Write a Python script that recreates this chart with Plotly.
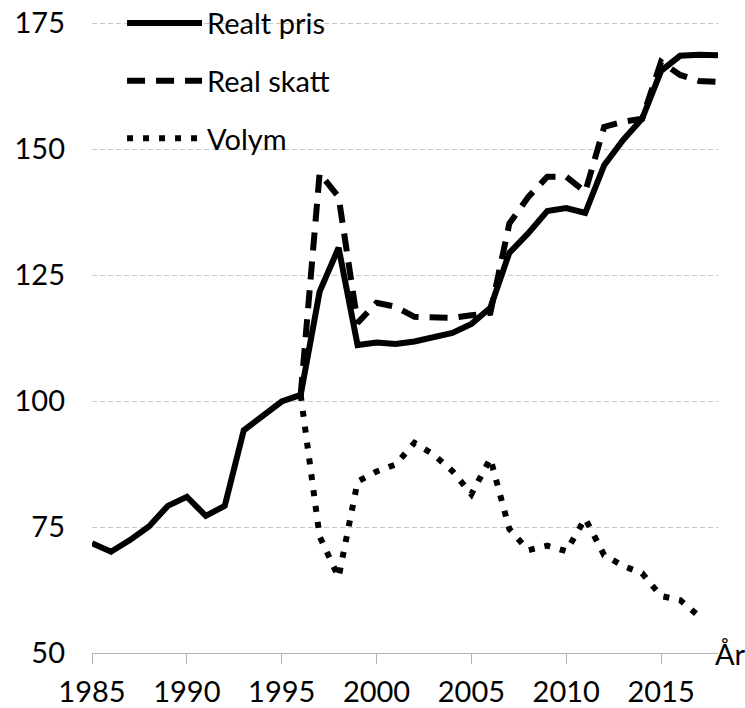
import plotly.graph_objects as go

years = list(range(1985, 2019))
realt_pris = [71.8, 70.1, 72.4, 75.1, 79.2, 81.0, 77.2, 79.2, 94.2, 97.0,
              99.9, 101.2, 121.7, 130.4, 111.1, 111.6, 111.3, 111.8, 112.6, 113.5,
              115.3, 118.5, 129.4, 133.3, 137.7, 138.3, 137.3, 146.8, 151.8, 156.0,
              165.5, 168.5, 168.7, 168.6]

skatt_years = list(range(1996, 2019))
real_skatt = [101.2, 145.2, 140.5, 115.5, 119.5, 118.7, 116.7, 116.5, 116.5, 117.0,
              117.5, 135.2, 140.5, 144.5, 144.5, 141.5, 154.4, 155.4, 156.0, 167.3,
              164.7, 163.5, 163.3]

volym_years = list(range(1996, 2018))
volym = [101.2, 73.1, 65.0, 84.0, 86.0, 87.4, 91.7, 89.4, 86.1, 81.5,
         88.6, 74.6, 70.4, 71.3, 70.2, 76.7, 69.4, 67.3, 65.8, 61.3,
         60.5, 57.3]

y_ticks = [50, 75, 100, 125, 150, 175]
x_ticks = [1985, 1990, 1995, 2000, 2005, 2010, 2015]

FONT = "Lato, 'Open Sans', sans-serif"
FS = 29

fig = go.Figure()
fig.add_trace(go.Scatter(x=years, y=realt_pris, name="Realt pris", mode="lines",
                         line=dict(color="black", width=6), legendgroup="a"))
fig.add_trace(go.Scatter(x=skatt_years, y=real_skatt, name="Real skatt", mode="lines",
                         line=dict(color="black", width=6, dash="18px,11px"), legendgroup="b"))
fig.add_trace(go.Scatter(x=volym_years, y=volym, name="Volym", mode="lines",
                         line=dict(color="black", width=6, dash="6px,10px"), legendgroup="c"))

fig.update_layout(
    width=745, height=708,
    margin=dict(l=92, r=27, t=21, b=55, autoexpand=False),
    paper_bgcolor="white", plot_bgcolor="white",
    font=dict(family=FONT, size=FS, color="black"),
    showlegend=True,
    legend=dict(x=0.048, y=1.037, xanchor="left", yanchor="top",
                bgcolor="rgba(0,0,0,0)", itemwidth=75,
                traceorder="grouped", tracegroupgap=17,
                font=dict(family=FONT, size=FS, color="black")),
    xaxis=dict(range=[1985, 2018], tickvals=x_ticks, ticktext=[str(v) for v in x_ticks],
               showgrid=False, zeroline=False, showline=True, linecolor="#b5b5b5",
               linewidth=1, ticks="outside", ticklen=10, tickcolor="#b5b5b5",
               tickwidth=1, ticklabelstandoff=3, ticklabeloverflow="allow"),
    xaxis2=dict(range=[1985, 2018], tickvals=x_ticks, overlaying="x", anchor="y",
                side="bottom", showticklabels=False, showgrid=False, zeroline=False,
                showline=False, ticks="inside", ticklen=10, tickcolor="#b5b5b5",
                tickwidth=1),
    yaxis=dict(range=[50, 175.4], tickvals=y_ticks, showgrid=True, gridcolor="#c8c8c8",
               griddash="5px,3px", gridwidth=1, zeroline=False, showline=False,
               ticks="", ticklabelstandoff=26, ticklabeloverflow="allow"),
    annotations=[dict(text="År", xref="paper", yref="paper", x=1.0, y=0.0,
                      xanchor="left", yanchor="middle", xshift=-5, showarrow=False,
                      font=dict(family=FONT, size=FS, color="black"))],
)

fig.write_html("out.html",
               config={"displayModeBar": False},
               post_script="document.body.style.margin='0';"
                           "document.body.style.overflow='hidden';")
